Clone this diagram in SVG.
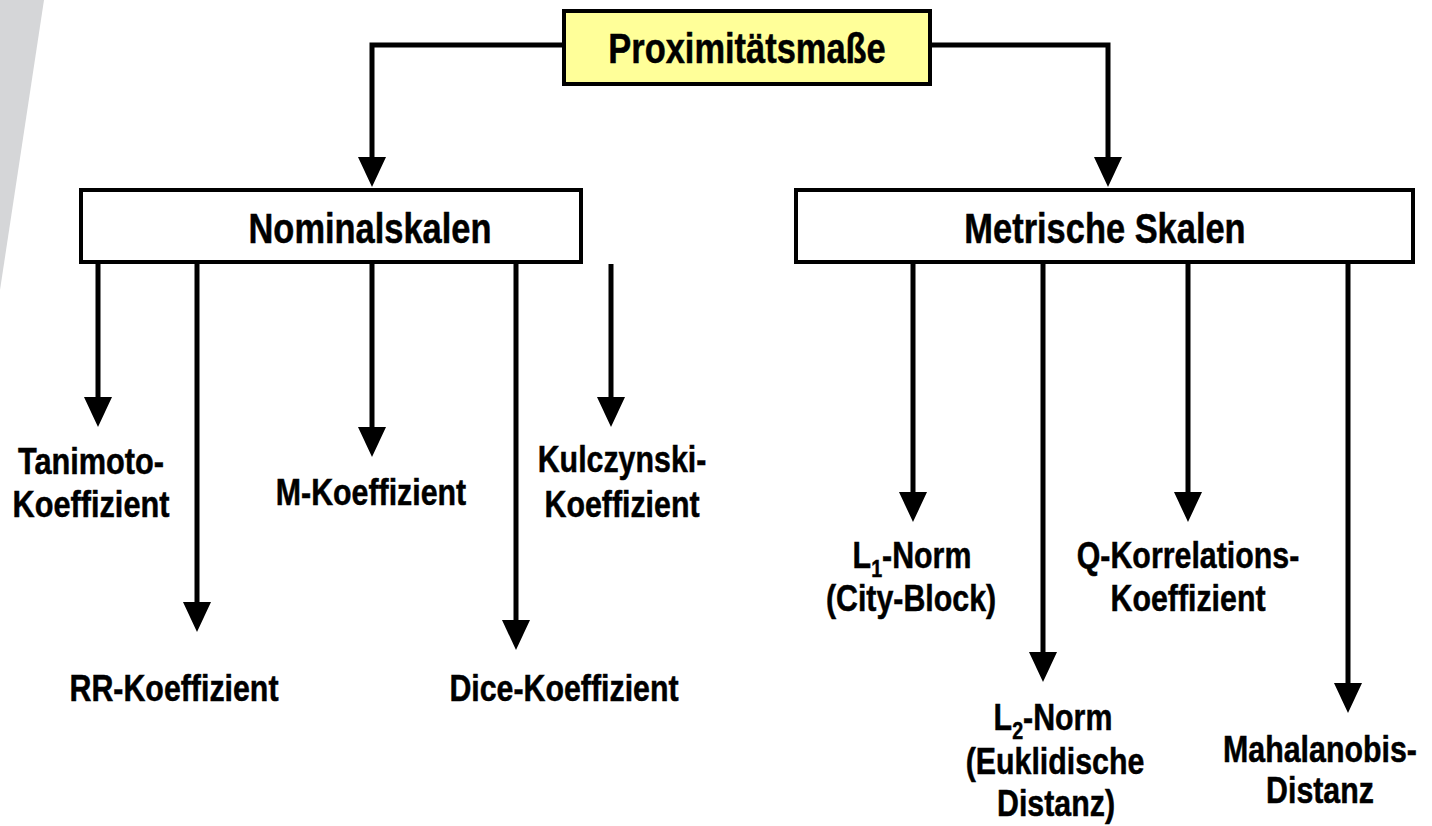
<svg xmlns="http://www.w3.org/2000/svg" width="1432" height="826" viewBox="0 0 1432 826">
  <style>
    .box { fill: #ffffff; stroke: #000000; stroke-width: 4; }
    .root { fill: #ffff99; }
    .wire { fill: none; stroke: #000000; stroke-width: 5; stroke-linejoin: miter; }
    .title { font-family: "Liberation Sans", Arial, sans-serif; font-weight: bold; font-size: 42px; fill: #000; stroke: #000; stroke-width: 0.5; text-anchor: middle; }
    .lbl { font-family: "Liberation Sans", Arial, sans-serif; font-weight: bold; font-size: 37px; fill: #000; stroke: #000; stroke-width: 0.5; text-anchor: middle; }
    .sub { font-size: 24px; }
  </style>
  <defs>
    <marker id="head" viewBox="0 0 30 28" refX="20" refY="14" markerWidth="30" markerHeight="28" markerUnits="userSpaceOnUse" orient="auto">
      <path d="M0,0 L30,14 L0,28 Z" fill="#000"/>
    </marker>
  </defs>

  <rect width="1432" height="826" fill="#ffffff"/>
  <!-- grey slanted band at the left edge -->
  <polygon points="0,0 44,0 0,290" fill="#d5d6d8"/>

  <g id="connectors">
    <path class="wire" d="M562,45 H372 V177" marker-end="url(#head)"/>
    <path class="wire" d="M932,45 H1108 V177" marker-end="url(#head)"/>
    <path class="wire" d="M98,264 V417" marker-end="url(#head)"/>
    <path class="wire" d="M197,264 V622" marker-end="url(#head)"/>
    <path class="wire" d="M372,264 V447" marker-end="url(#head)"/>
    <path class="wire" d="M516,264 V640" marker-end="url(#head)"/>
    <path class="wire" d="M611,264 V417" marker-end="url(#head)"/>
    <path class="wire" d="M913,264 V512" marker-end="url(#head)"/>
    <path class="wire" d="M1043,264 V672" marker-end="url(#head)"/>
    <path class="wire" d="M1188,264 V512" marker-end="url(#head)"/>
    <path class="wire" d="M1348,264 V703" marker-end="url(#head)"/>
  </g>

  <g id="proximitaetsmasse">
    <rect class="box root" x="564" y="11" width="366" height="73"/>
    <text class="title" transform="translate(747,63) scale(0.82,1)">Proximitätsmaße</text>
  </g>

  <g id="nominalskalen">
    <rect class="box" x="81" y="190" width="500" height="72"/>
    <text class="title" transform="translate(370,243) scale(0.82,1)">Nominalskalen</text>
  </g>

  <g id="metrische-skalen">
    <rect class="box" x="796" y="190" width="617" height="72"/>
    <text class="title" transform="translate(1105,243) scale(0.82,1)">Metrische Skalen</text>
  </g>

  <g id="tanimoto">
    <text class="lbl" transform="translate(91,474) scale(0.83,1)">Tanimoto-</text>
    <text class="lbl" transform="translate(91,517) scale(0.83,1)">Koeffizient</text>
  </g>

  <g id="rr">
    <text class="lbl" transform="translate(174,701) scale(0.82,1)">RR-Koeffizient</text>
  </g>

  <g id="m">
    <text class="lbl" transform="translate(371,505) scale(0.82,1)">M-Koeffizient</text>
  </g>

  <g id="dice">
    <text class="lbl" transform="translate(564,701) scale(0.82,1)">Dice-Koeffizient</text>
  </g>

  <g id="kulczynski">
    <text class="lbl" transform="translate(622,472) scale(0.82,1)">Kulczynski-</text>
    <text class="lbl" transform="translate(622,517) scale(0.82,1)">Koeffizient</text>
  </g>

  <g id="l1-norm">
    <text class="lbl" transform="translate(912,568) scale(0.82,1)">L<tspan class="sub" dy="9">1</tspan><tspan dy="-9">-Norm</tspan></text>
    <text class="lbl" transform="translate(911,611) scale(0.82,1)">(City-Block)</text>
  </g>

  <g id="l2-norm">
    <text class="lbl" transform="translate(1053,730) scale(0.82,1)">L<tspan class="sub" dy="9">2</tspan><tspan dy="-9">-Norm</tspan></text>
    <text class="lbl" transform="translate(1055,774) scale(0.82,1)">(Euklidische</text>
    <text class="lbl" transform="translate(1056,816) scale(0.82,1)">Distanz)</text>
  </g>

  <g id="q-korrelation">
    <text class="lbl" transform="translate(1188,568) scale(0.82,1)">Q-Korrelations-</text>
    <text class="lbl" transform="translate(1188,611) scale(0.82,1)">Koeffizient</text>
  </g>

  <g id="mahalanobis">
    <text class="lbl" transform="translate(1320,762) scale(0.82,1)">Mahalanobis-</text>
    <text class="lbl" transform="translate(1320,803) scale(0.82,1)">Distanz</text>
  </g>
</svg>
